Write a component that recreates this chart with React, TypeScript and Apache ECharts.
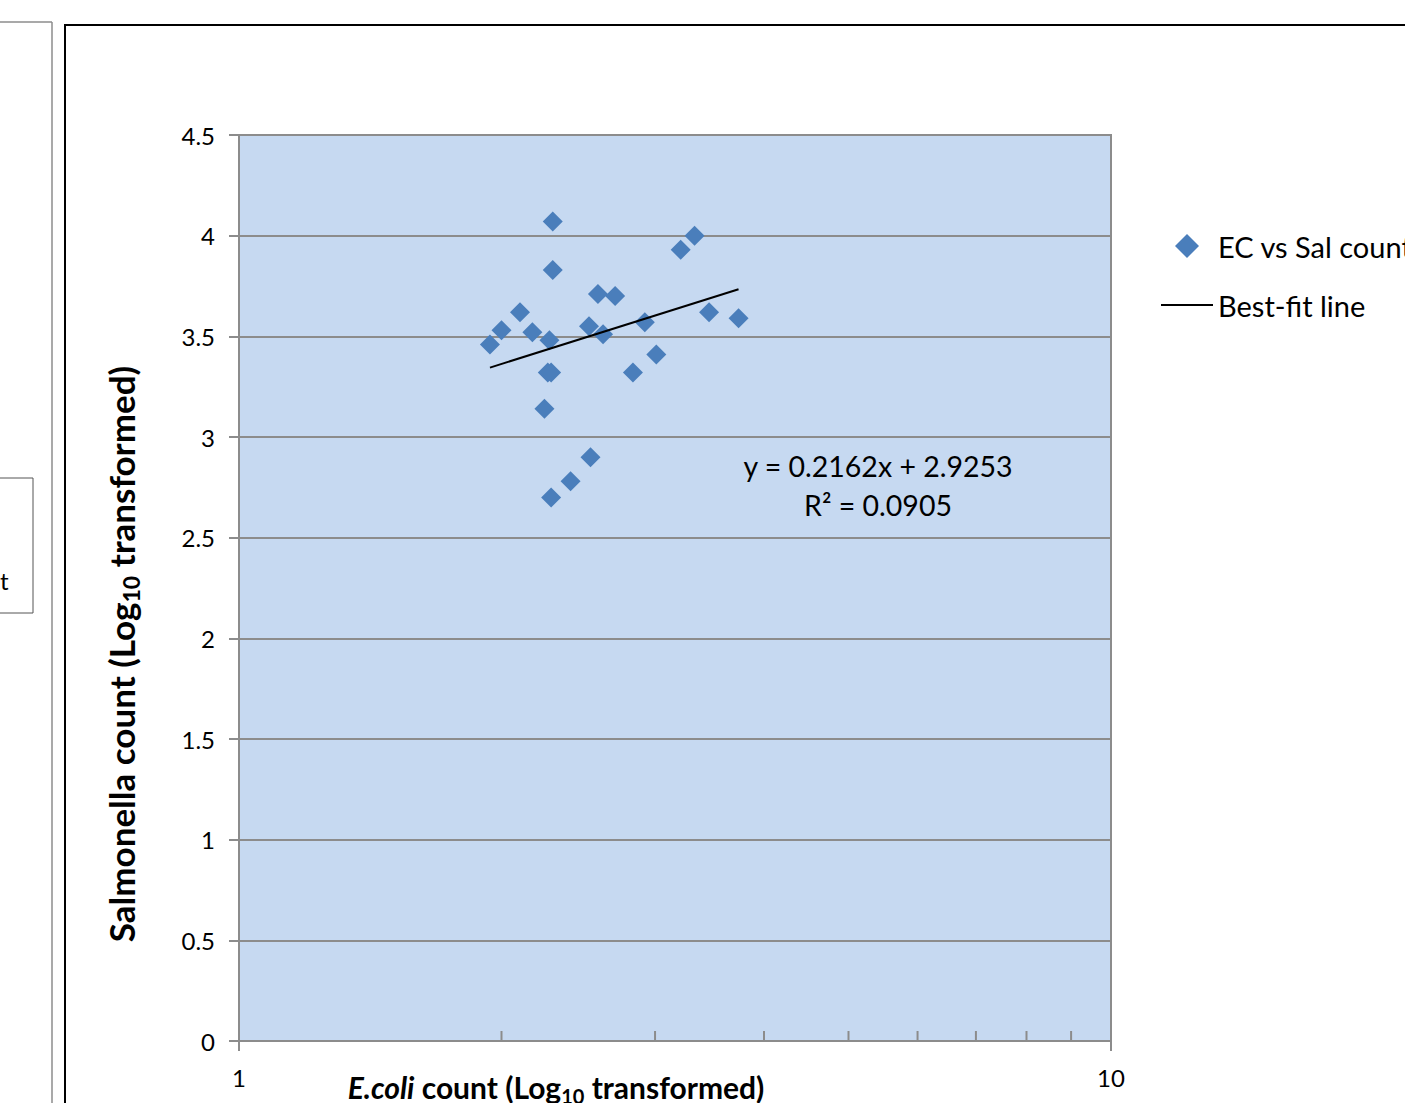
import React, { useEffect, useRef } from "react";
import * as echarts from "echarts";

const ecoliLog: number[] = [
  1.94, 2.0, 2.1, 2.17, 2.27, 2.29, 2.29, 2.26, 2.28, 2.24, 2.28, 2.4,
  2.53, 2.52, 2.58, 2.615, 2.7, 2.83, 2.92, 3.01, 3.21, 3.33, 3.46, 3.74,
];
const salLog: number[] = [
  3.46, 3.53, 3.62, 3.52, 3.48, 4.07, 3.83, 3.32, 3.32, 3.14, 2.7, 2.78,
  2.9, 3.55, 3.71, 3.51, 3.7, 3.32, 3.57, 3.41, 3.93, 4.0, 3.62, 3.59,
];
const slope = 0.2162;
const intercept = 2.9253;
const yTicks = { min: 0, max: 4.5, interval: 0.5 };
const xMinorTicks: number[] = [2, 3, 4, 5, 6, 7, 8, 9];
const seriesName = "EC vs Sal count";
const fitName = "Best-fit line";
const equationText = "y = 0.2162x + 2.9253";
const r2Text = "R² = 0.0905";

const FONT = "Lato, 'Open Sans', sans-serif";

export default function App() {
  const ref = useRef<HTMLDivElement>(null);
  useEffect(() => {
    if (!ref.current) return;
    const chart = echarts.init(ref.current, undefined, { renderer: "svg" });
    const pts = ecoliLog.map((x, i) => [x, salLog[i]]);
    const xmin = Math.min(...ecoliLog);
    const xmax = Math.max(...ecoliLog);
    const fit = [
      [xmin, slope * xmin + intercept],
      [xmax, slope * xmax + intercept],
    ];
    chart.setOption({
      animation: false,
      textStyle: { fontFamily: FONT },
      grid: {
        left: 239,
        right: 294,
        top: 135,
        bottom: 62,
        show: true,
        backgroundColor: "#C6D9F1",
        borderColor: "#8C8C8C",
        borderWidth: 2,
      },
      legend: [
        {
          data: [seriesName],
          left: 1170,
          top: 226,
          orient: "vertical",
          icon: "diamond",
          itemWidth: 24,
          itemHeight: 24,
          itemStyle: { color: "#4A7EBB", opacity: 1 },
          textStyle: { fontSize: 29, lineHeight: 30, color: "#000", fontFamily: FONT, padding: [0, 0, 0, 14] },
          selectedMode: false,
        },
        {
          data: [fitName],
          left: 1156,
          top: 285,
          orient: "vertical",
          icon: "rect",
          itemWidth: 52,
          itemHeight: 2,
          itemStyle: { color: "#000" },
          textStyle: { fontSize: 29, lineHeight: 30, color: "#000", fontFamily: FONT },
          selectedMode: false,
        },
      ],
      xAxis: {
        type: "log",
        logBase: 10,
        min: 1,
        max: 10,
        axisLine: { show: true, lineStyle: { color: "#8C8C8C", width: 2 } },
        axisTick: { show: true, length: 10, lineStyle: { color: "#8C8C8C", width: 2 } },
        axisLabel: { fontSize: 24, color: "#000", margin: 24, fontFamily: FONT },
        splitLine: { show: false },
      },
      yAxis: {
        type: "value",
        min: yTicks.min,
        max: yTicks.max,
        interval: yTicks.interval,
        axisLine: { show: true, lineStyle: { color: "#8C8C8C", width: 2 } },
        axisTick: { show: true, length: 10, lineStyle: { color: "#8C8C8C", width: 2 } },
        axisLabel: { fontSize: 24, color: "#000", margin: 24, fontFamily: FONT },
        splitLine: { show: true, lineStyle: { color: "#8C8C8C", width: 2 } },
      },
      series: [
        {
          name: "minor",
          type: "scatter",
          data: xMinorTicks.map((v) => [v, 0]),
          symbol: "rect",
          symbolSize: [2, 10],
          symbolOffset: [0, -5],
          itemStyle: { color: "#8C8C8C", opacity: 1 },
          silent: true,
          clip: false,
          z: 1,
        },
        {
          name: seriesName,
          type: "scatter",
          data: pts,
          symbol: "diamond",
          symbolSize: 20,
          itemStyle: { color: "#4A7EBB", opacity: 1 },
          z: 3,
        },
        {
          name: fitName,
          type: "line",
          data: fit,
          symbol: "none",
          lineStyle: { color: "#000", width: 2 },
          itemStyle: { color: "#000" },
          z: 4,
        },
      ],
      graphic: [
        {
          type: "rect",
          shape: { x: 65, y: 25, width: 1500, height: 1200 },
          style: { fill: "none", stroke: "#000", lineWidth: 2 },
          silent: true,
        },
        {
          type: "line",
          shape: { x1: 0, y1: 22, x2: 52, y2: 22 },
          style: { stroke: "#8C8C8C", lineWidth: 1.5 },
          silent: true,
        },
        {
          type: "line",
          shape: { x1: 52, y1: 22, x2: 52, y2: 1110 },
          style: { stroke: "#8C8C8C", lineWidth: 1.5 },
          silent: true,
        },
        {
          type: "rect",
          shape: { x: -2, y: 478, width: 35, height: 135 },
          style: { fill: "#fff", stroke: "#555", lineWidth: 1 },
          silent: true,
        },
        {
          type: "text",
          x: 0,
          y: 580,
          style: { text: "t", fontSize: 24, fontFamily: FONT, fill: "#000", verticalAlign: "middle" },
          silent: true,
        },
        {
          type: "text",
          x: 878,
          y: 466,
          style: {
            text: equationText,
            fontSize: 28.5,
            fontFamily: FONT,
            fill: "#000",
            align: "center",
            verticalAlign: "middle",
          },
          silent: true,
        },
        {
          type: "text",
          x: 878,
          y: 505,
          style: {
            text: r2Text,
            fontSize: 28.5,
            fontFamily: FONT,
            fill: "#000",
            align: "center",
            verticalAlign: "middle",
          },
          silent: true,
        },
        {
          type: "text",
          x: 121,
          y: 654,
          rotation: Math.PI / 2,
          style: {
            text: "{a|Salmonella count (Log}{s|10}{a| transformed)}",
            align: "center",
            verticalAlign: "middle",
            rich: {
              a: { fontSize: 35, fontWeight: "bold", fontFamily: FONT, fill: "#000", lineHeight: 42 },
              s: { fontSize: 23, fontWeight: "bold", fontFamily: FONT, fill: "#000", verticalAlign: "bottom", lineHeight: 24 },
            },
          },
          silent: true,
        },
        {
          type: "text",
          x: 556,
          y: 1087,
          style: {
            text: "{i|E.coli}{a| count (Log}{s|10}{a| transformed)}",
            align: "center",
            verticalAlign: "middle",
            rich: {
              i: { fontSize: 30, fontWeight: "bold", fontStyle: "italic", fontFamily: FONT, fill: "#000", lineHeight: 38 },
              a: { fontSize: 30, fontWeight: "bold", fontFamily: FONT, fill: "#000", lineHeight: 38 },
              s: { fontSize: 20, fontWeight: "bold", fontFamily: FONT, fill: "#000", verticalAlign: "bottom", lineHeight: 22 },
            },
          },
          silent: true,
        },
      ],
    });
    return () => chart.dispose();
  }, []);
  return (
    <div
      ref={ref}
      style={{ position: "absolute", left: 0, top: 0, width: 1405, height: 1103 }}
    />
  );
}
